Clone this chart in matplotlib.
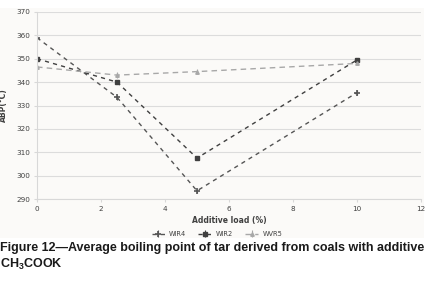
import matplotlib.pyplot as plt
import matplotlib.patches as patches

plt.rcParams['mathtext.fontset'] = 'custom'
plt.rcParams['mathtext.rm'] = 'Liberation Sans:bold'
plt.rcParams['mathtext.it'] = 'Liberation Sans:bold'
plt.rcParams['mathtext.bf'] = 'Liberation Sans:bold'

load = [0, 2.5, 5, 10]
wir4 = [359, 333.5, 293.5, 335.5]
wir2 = [350, 340, 307.5, 349.5]
wvr5 = [346.5, 343, 344.5, 348]
err4 = [0.8, 1.0, 0.8, 1.2]
err2 = [0.8, 0.6, 0.6, 0.6]
err5 = [0.8, 1.2, 1.0, 0.8]

xticks = [0, 2, 4, 6, 8, 10, 12]
yticks = [290, 300, 310, 320, 330, 340, 350, 360, 370]

fig = plt.figure(figsize=(4.34, 2.96), dpi=100)
fig.patches.append(patches.Rectangle((0, 1 - 238 / 296), 424 / 434, 230 / 296,
                                     transform=fig.transFigure, facecolor='#fbfaf8',
                                     edgecolor='none', zorder=-10))

ax = fig.add_axes([37 / 434, 1 - 199 / 296, 384 / 434, 187 / 296])
ax.set_facecolor('none')

ax.errorbar(load, wir4, yerr=err4, color='#555555', ls=(0, (3, 3)), lw=1.0,
            marker='+', ms=4, mew=1.2, elinewidth=0.8, capsize=0, label='WIR4')
ax.errorbar(load, wir2, yerr=err2, color='#404040', ls=(0, (3, 3)), lw=1.0,
            marker='s', ms=3.2, elinewidth=0.8, capsize=0, label='WIR2')
ax.errorbar(load, wvr5, yerr=err5, color='#a8a8a8', ls=(0, (4, 3)), lw=1.0,
            marker='^', ms=2.5, elinewidth=0.8, capsize=0, label='WVR5')

ax.set_xlim(0, 12)
ax.set_ylim(290, 370)
ax.set_xticks(xticks)
ax.set_yticks(yticks)
ax.grid(axis='y', color='#dcdcdc', lw=0.8)
ax.set_axisbelow(True)
for s in ['top', 'right']:
    ax.spines[s].set_visible(False)
for s in ['left', 'bottom']:
    ax.spines[s].set_color('#d8d8d8')
    ax.spines[s].set_linewidth(0.8)
ax.tick_params(length=2, color='#d8d8d8', labelsize=5.2, labelcolor='#404040', pad=3)

ax.set_xlabel('Additive load (%)', fontsize=5.5, fontweight='bold', color='#404040', labelpad=3)
ax.set_ylabel('ABP(°C)', fontsize=5.5, fontweight='bold', color='#404040', labelpad=6)

fig.legend(*ax.get_legend_handles_labels(), loc='center',
           bbox_to_anchor=(217 / 434, 1 - 234 / 296), ncol=3, frameon=False,
           fontsize=4.8, labelcolor='#404040', handlelength=2.0, columnspacing=1.8,
           handletextpad=0.6)

fig.text(0.0, 1 - 248 / 296, 'Figure 12\u2014Average boiling point of tar derived from coals with additive',
         fontsize=9.0, fontweight='bold', family='Liberation Sans', color='#1a1a1a', va='center')
fig.text(0.0, 1 - 264 / 296, 'CH$_3$COOK', fontsize=9.0, fontweight='bold',
         family='Liberation Sans', color='#1a1a1a', va='center')

fig.savefig('out.png', dpi=100)
